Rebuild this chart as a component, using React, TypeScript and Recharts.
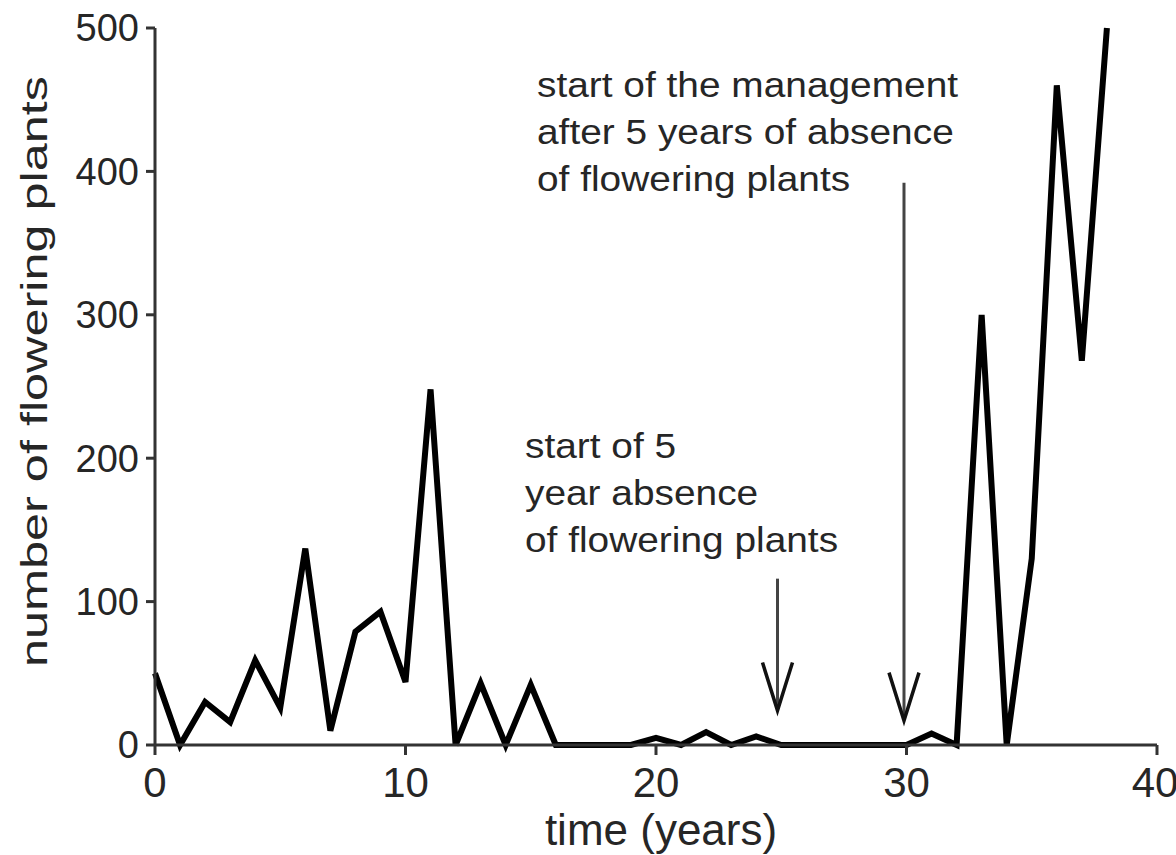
import { LineChart, Line, XAxis, YAxis, ReferenceLine, ReferenceDot } from "recharts";

// number of flowering plants per year
const years = [
  0, 1, 2, 3, 4, 5, 6, 7, 8, 9, 10, 11, 12, 13, 14, 15, 16, 17, 18, 19,
  20, 21, 22, 23, 24, 25, 26, 27, 28, 29, 30, 31, 32, 33, 34, 35, 36, 37, 38,
];
const plants = [
  50, 0, 30, 16, 59, 26, 137, 10, 79, 93, 44, 248, 0, 43, 0, 42, 0, 0, 0, 0,
  5, 0, 9, 0, 6, 0, 0, 0, 0, 0, 0, 8, 0, 300, 0, 130, 460, 268, 500,
];

const xTicks = [0, 10, 20, 30, 40];
const yTicks = [0, 100, 200, 300, 400, 500];

// annotations: arrows (x, from y, to y) and text blocks (x, y of first line)
const absenceArrow = { x: 24.85, from: 116, to: 24 };
const managementArrow = { x: 29.9, from: 392, to: 17 };
const absenceText = { x: 14.77, y: 200, lines: ["start of 5", "year absence", "of flowering plants"] };
const managementText = {
  x: 15.25,
  y: 452,
  lines: ["start of the management", "after 5 years of absence", "of flowering plants"],
};

const data = years.map((x, i) => ({ x, y: plants[i] }));

const FONT = '"Liberation Sans", Arial, Helvetica, sans-serif';
const TEXT = "#262626";
const AXIS = "#333";

function Arrow(props: any) {
  const { x1, y1, x2, y2 } = props;
  return (
    <g>
      <line x1={x1} y1={y1} x2={x2} y2={y2 - 4} stroke="#444" strokeWidth={3} />
      <polyline
        points={`${x2 - 15},${y2 - 48} ${x2},${y2} ${x2 + 15},${y2 - 48}`}
        fill="none"
        stroke="#111"
        strokeWidth={3.5}
      />
    </g>
  );
}

function makeTextBlock(lines: string[]) {
  return (props: any) => {
    const { cx, cy } = props;
    return (
      <g transform={`translate(${cx},${cy}) scale(1.11,1)`}>
        {lines.map((l, i) => (
          <text key={i} x={0} y={i * 47} fontSize={35} fontFamily={FONT} fill={TEXT}>
            {l}
          </text>
        ))}
      </g>
    );
  };
}

function YLabel(props: any) {
  const { viewBox } = props;
  const cy = viewBox.y + viewBox.height / 2 - 15;
  return (
    <text
      transform={`translate(47,${cy}) rotate(-90) scale(1.4,1)`}
      textAnchor="middle"
      fontSize={36}
      fontFamily={FONT}
      fill={TEXT}
    >
      number of flowering plants
    </text>
  );
}

function XLabel(props: any) {
  const { viewBox } = props;
  return (
    <text
      x={viewBox.x + viewBox.width / 2 + 5}
      y={viewBox.y + 100}
      textAnchor="middle"
      fontSize={44}
      fontFamily={FONT}
      fill={TEXT}
    >
      time (years)
    </text>
  );
}

export default function App() {
  return (
    <div style={{ position: "absolute", left: 0, top: 0, background: "#fff" }}>
      <LineChart width={1176} height={855} data={data} margin={{ top: 28, right: 19, bottom: 0, left: 0 }}>
        <XAxis
          type="number"
          dataKey="x"
          domain={[0, 40]}
          ticks={xTicks}
          height={110}
          stroke={AXIS}
          strokeWidth={3}
          tickSize={10}
          tickMargin={12}
          tick={{ fontSize: 42, fontFamily: FONT, fill: TEXT }}
          label={<XLabel />}
        />
        <YAxis
          type="number"
          domain={[0, 500]}
          ticks={yTicks}
          width={155}
          stroke={AXIS}
          strokeWidth={3}
          tickSize={9}
          tickMargin={7}
          tick={{ fontSize: 38, fontFamily: FONT, fill: TEXT }}
          label={<YLabel />}
        />
        <Line
          type="linear"
          dataKey="y"
          stroke="#000"
          strokeWidth={6}
          dot={false}
          activeDot={false}
          isAnimationActive={false}
        />
        <ReferenceLine
          segment={[
            { x: absenceArrow.x, y: absenceArrow.from },
            { x: absenceArrow.x, y: absenceArrow.to },
          ]}
          shape={Arrow}
          ifOverflow="visible"
        />
        <ReferenceLine
          segment={[
            { x: managementArrow.x, y: managementArrow.from },
            { x: managementArrow.x, y: managementArrow.to },
          ]}
          shape={Arrow}
          ifOverflow="visible"
        />
        <ReferenceDot
          x={absenceText.x}
          y={absenceText.y}
          r={0}
          shape={makeTextBlock(absenceText.lines)}
          ifOverflow="visible"
        />
        <ReferenceDot
          x={managementText.x}
          y={managementText.y}
          r={0}
          shape={makeTextBlock(managementText.lines)}
          ifOverflow="visible"
        />
      </LineChart>
    </div>
  );
}
